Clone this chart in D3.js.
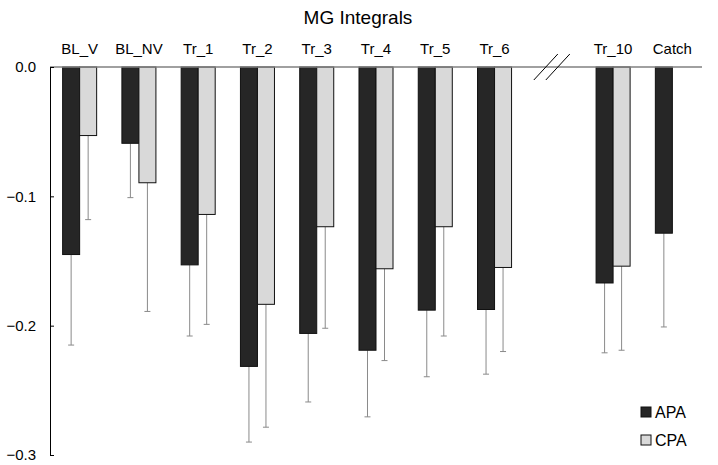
<!DOCTYPE html>
<html>
<head>
<meta charset="utf-8">
<script src="https://cdn.jsdelivr.net/npm/d3@7"></script>
<style>
  body { margin: 0; background: #fff; }
  text { font-family: "Liberation Sans", Arial, sans-serif; fill: #000; }
</style>
</head>
<body>
<div id="chart"></div>
<script>
// Slots along the x axis ("" is the gap with the axis break)
var categories = ["BL_V", "BL_NV", "Tr_1", "Tr_2", "Tr_3", "Tr_4", "Tr_5", "Tr_6", "", "Tr_10", "Catch"];
var series = ["APA", "CPA"];

var apaValues = [-0.145, -0.059, -0.153, -0.2315, -0.206, -0.219, -0.188, -0.1875, null, -0.167, -0.1285];
var apaSd     = [0.070, 0.042, 0.055, 0.0585, 0.053, 0.0515, 0.0515, 0.050, null, 0.054, 0.0725];
var cpaValues = [-0.053, -0.0895, -0.114, -0.1835, -0.1235, -0.156, -0.1235, -0.155, null, -0.154, null];
var cpaSd     = [0.065, 0.0995, 0.085, 0.095, 0.0785, 0.071, 0.0845, 0.065, null, 0.065, null];

var yTicks = [0, -0.1, -0.2, -0.3];

var svgWidth = 718;
var svgHeight = 465;
var colors = { APA: "#262626", CPA: "#d9d9d9" };

var svg = d3.select("#chart")
  .append("svg")
  .attr("width", svgWidth)
  .attr("height", svgHeight);

// scales
var x0 = d3.scaleBand()
  .domain(d3.range(categories.length))
  .range([50, 702])
  .paddingInner(0.426)
  .paddingOuter(0.213);

var x1 = d3.scaleBand()
  .domain(series)
  .range([0, x0.bandwidth()]);

var y = d3.scaleLinear()
  .domain([-0.3, 0])
  .range([455, 67]);

// build rows for bars
var rows = [];
categories.forEach(function(c, i) {
  if (apaValues[i] != null) rows.push({ i: i, s: "APA", v: apaValues[i], sd: apaSd[i] });
  if (cpaValues[i] != null) rows.push({ i: i, s: "CPA", v: cpaValues[i], sd: cpaSd[i] });
});

// title
svg.append("text")
  .attr("x", 358)
  .attr("y", 24)
  .attr("text-anchor", "middle")
  .style("font-size", "19px")
  .text("MG Integrals");

// category labels above the zero line
svg.selectAll("text.cat")
  .data(categories)
  .enter()
  .append("text")
  .attr("class", "cat")
  .attr("x", (d, i) => x0(i) + x0.bandwidth() / 2)
  .attr("y", 53.5)
  .attr("text-anchor", "middle")
  .style("font-size", "15px")
  .text(d => d);

// error bars (drawn below the bars)
var err = svg.append("g").attr("stroke", "#8a8a8a").attr("stroke-width", 1);
rows.forEach(function(d) {
  var cx = x0(d.i) + x1(d.s) + x1.bandwidth() / 2;
  err.append("line")
    .attr("x1", cx).attr("x2", cx)
    .attr("y1", y(d.v)).attr("y2", y(d.v - d.sd));
  err.append("line")
    .attr("x1", cx - 3).attr("x2", cx + 3)
    .attr("y1", y(d.v - d.sd)).attr("y2", y(d.v - d.sd));
});

// bars
svg.selectAll("rect.bar")
  .data(rows)
  .enter()
  .append("rect")
  .attr("class", "bar")
  .attr("x", d => x0(d.i) + x1(d.s))
  .attr("y", y(0))
  .attr("width", x1.bandwidth())
  .attr("height", d => y(d.v) - y(0))
  .attr("fill", d => colors[d.s])
  .attr("stroke", "#111")
  .attr("stroke-width", 1);

// zero line
svg.append("line")
  .attr("x1", x0.range()[0])
  .attr("x2", x0.range()[1])
  .attr("y1", y(0))
  .attr("y2", y(0))
  .attr("stroke", "#808080")
  .attr("stroke-width", 1.5);

// y axis
var leftAxis = d3.axisLeft(y)
  .tickValues(yTicks)
  .tickFormat(d3.format(".1f"))
  .tickSizeInner(-4)
  .tickSizeOuter(0)
  .tickPadding(14);

var yAxis = svg.append("g")
  .attr("transform", "translate(50,0)")
  .call(leftAxis);
yAxis.selectAll("text")
  .style("font-size", "15px")
  .style("font-family", "'Liberation Sans', Arial, sans-serif")
  .attr("fill", "#000");
yAxis.selectAll("path, line").attr("stroke", "#000");

// axis break mark "//" in the gap slot
var gapX = x0(8) + x0.bandwidth() / 2 - 2;
[-6, 6].forEach(function(off) {
  svg.append("line")
    .attr("x1", gapX + off - 12)
    .attr("x2", gapX + off + 12)
    .attr("y1", y(0) + 13)
    .attr("y2", y(0) - 13)
    .attr("stroke", "#000")
    .attr("stroke-width", 1);
});

// legend
var legend = svg.selectAll("g.legend")
  .data(series)
  .enter()
  .append("g")
  .attr("class", "legend")
  .attr("transform", (d, i) => `translate(641, ${407 + i * 28})`);

legend.append("rect")
  .attr("width", 10)
  .attr("height", 10)
  .attr("fill", d => colors[d])
  .attr("stroke", "#111");

legend.append("text")
  .attr("x", 14)
  .attr("y", 10.5)
  .style("font-size", "16px")
  .text(d => d);
</script>
</body>
</html>
